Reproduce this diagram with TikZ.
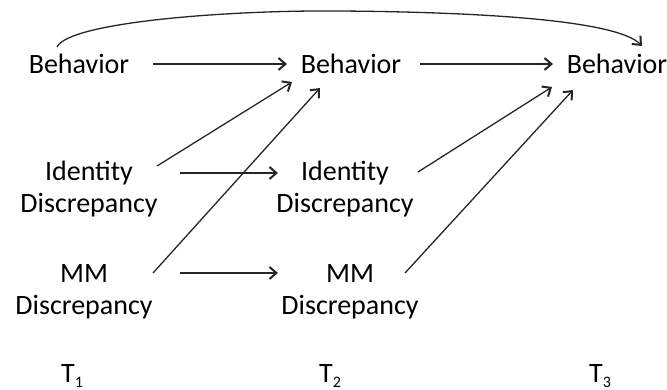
\documentclass[tikz,border=0pt]{standalone}
\usepackage{fontspec}
\setmainfont{Carlito}
\usetikzlibrary{arrows.meta,calc}
\begin{document}
\begin{tikzpicture}[x=1pt,y=-1pt,
  lbl/.style={inner sep=0pt,font=\fontsize{28}{32}\selectfont,align=center},
  arr/.style={line width=1.3pt,color=black!85,-{Straight Barb[length=7pt,width=12pt,line width=2pt]}},
  tsub/.style={inner sep=0pt,anchor=base,font=\fontsize{28}{32}\selectfont}]
\useasboundingbox (0,0) rectangle (667,390);

% behaviour at three waves
\node[lbl,anchor=base] (b1) at (79,74) {Behavior};
\node[lbl,anchor=base] (b2) at (351,74) {Behavior};
\node[lbl,anchor=base] (b3) at (617,74) {Behavior};

% discrepancy measures at waves 1 and 2
\node[lbl] (id1) at (89,189) {Identity\\Discrepancy};
\node[lbl] (id2) at (345,189) {Identity\\Discrepancy};
\node[lbl] (mm1) at (84,292) {MM\\Discrepancy};
\node[lbl] (mm2) at (350,292) {MM\\Discrepancy};

% time labels
\newcommand{\wavelabel}[1]{T\raisebox{-5pt}{\fontsize{16}{16}\selectfont #1}}
\node[tsub] (t1) at (72,382) {\wavelabel{1}};
\node[tsub] (t2) at (330,382) {\wavelabel{2}};
\node[tsub] (t3) at (600,382) {\wavelabel{3}};

% stability paths
\draw[arr] ($(b1.base)+(74,-10)$) -- ($(b2.base)+(-64,-10)$);
\draw[arr] ($(b2.base)+(69,-10)$) -- ($(b3.base)+(-64,-10)$);
\draw[arr] ($(id1.center)+(91,-16)$) -- ($(id2.center)+(-67,-16)$);
\draw[arr] ($(mm1.center)+(96,-19)$) -- ($(mm2.center)+(-72,-19)$);

% cross-lagged paths to behaviour
\draw[arr] ($(id1.center)+(68,-23)$) -- ($(b2.base)+(-59,8)$);
\draw[arr] ($(mm1.center)+(69,-19)$) -- ($(b2.base)+(-31,14)$);
\draw[arr] ($(id2.center)+(73,-17)$) -- ($(b3.base)+(-65,13)$);
\draw[arr] ($(mm2.center)+(55,-19)$) -- ($(b3.base)+(-44,16)$);

% long-range path from wave 1 to wave 3
\draw[arr] ($(b1.base)+(-22,-27)$)
  .. controls ($(b1.base)+(-10,-52)$) and ($(b1.base)+(150,-64)$) .. ($(b1.base)+(260,-63)$)
  .. controls ($(b1.base)+(400,-62)$) and ($(b3.base)+(0,-54)$) .. ($(b3.base)+(25,-28)$);
\end{tikzpicture}
\end{document}
